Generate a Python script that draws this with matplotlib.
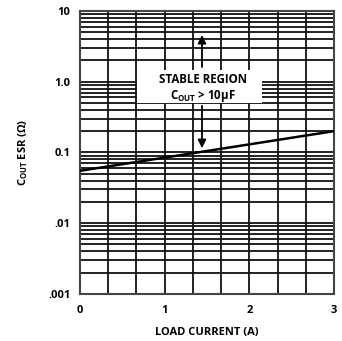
import numpy as np
import matplotlib
matplotlib.use("Agg")
import matplotlib.pyplot as plt
from matplotlib.patches import Rectangle
from matplotlib.ticker import FixedLocator, LogLocator, NullFormatter

plt.rcParams['font.family'] = ['Open Sans', 'DejaVu Sans']
plt.rcParams['mathtext.default'] = 'regular'

# data
load_current = [0, 3]
esr = [0.055, 0.2]
x_ticks = [0, 1, 2, 3]
x_labels = ["0", "1", "2", "3"]
y_ticks = [0.001, 0.01, 0.1, 1.0, 10]
y_labels = [".001", ".01", "0.1", "1.0", "10"]

fig = plt.figure(figsize=(3.42, 3.41), dpi=100)
ax = fig.add_axes([0.234, 0.138, 0.743, 0.83])

ax.set_yscale("log")
ax.set_xlim(0, 3)
ax.set_ylim(0.001, 10)

# grid: vertical every 1/3 A, horizontal log major+minor
ax.xaxis.set_minor_locator(FixedLocator(np.arange(0, 3.01, 1 / 3)))
ax.yaxis.set_minor_locator(LogLocator(base=10, subs=np.arange(2, 10)))
ax.yaxis.set_minor_formatter(NullFormatter())
ax.grid(True, which="both", color="#111111", linewidth=1.3)
ax.set_axisbelow(True)

ax.plot(load_current, esr, color="black", linewidth=1.8, zorder=3)

ax.set_xticks(x_ticks)
ax.set_xticklabels(x_labels)
ax.set_yticks(y_ticks)
ax.set_yticklabels(y_labels)
ax.tick_params(which="both", length=0, labelsize=8, pad=7)
ax.tick_params(axis="x", pad=8)
for lbl in ax.get_xticklabels() + ax.get_yticklabels():
    lbl.set_fontweight("bold")

for s in ax.spines.values():
    s.set_linewidth(1.5)
    s.set_color("#444444")

ax.set_xlabel("LOAD CURRENT (A)", fontsize=8, fontweight="bold", labelpad=8)
ax.set_ylabel("C$_{OUT}$ ESR (Ω)", fontsize=8, fontweight="bold", labelpad=13)

# white region label box
ax.add_patch(Rectangle((0.67, 0.5), 1.48, 0.97, facecolor="white",
                       edgecolor="none", zorder=2.5))
ax.text(1.45, 0.8, "STABLE REGION\nC$_{OUT}$ > 10µF", ha="center", va="center",
        fontsize=8.3, fontweight="bold", linespacing=1.1, zorder=5)

# arrows
ax.annotate("", xy=(1.44, 5.0), xytext=(1.44, 1.47),
            arrowprops=dict(arrowstyle="-|>", color="black", lw=1.3,
                            mutation_scale=12), zorder=4)
ax.annotate("", xy=(1.44, 0.105), xytext=(1.44, 0.5),
            arrowprops=dict(arrowstyle="-|>", color="black", lw=1.3,
                            mutation_scale=12), zorder=4)

fig.savefig("out.png", dpi=100)
